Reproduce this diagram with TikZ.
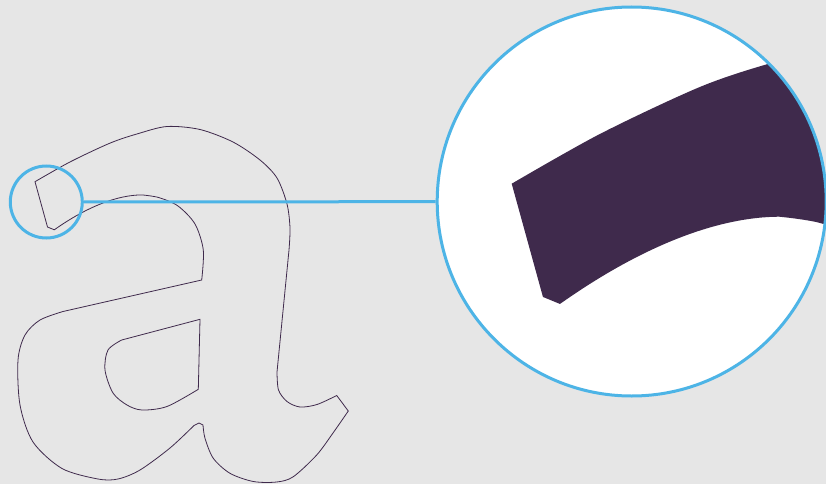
\documentclass[tikz,border=0pt]{standalone}
\usepackage{tikz}
\usetikzlibrary{positioning}
\definecolor{bggray}{RGB}{230,230,230}
\definecolor{lensblue}{RGB}{77,180,230}
\definecolor{glyphpurple}{RGB}{63,42,76}

% outline of the letter a (pixel units, y down)
\newcommand{\glyphoutline}{%
  plot[smooth] coordinates {(35,181.7) (70.3,161.8) (110.3,143) (138.2,133.6) (167,126.5) (200,129.5) (233,142) (260,160) (277,178) (287,204) (290,228) (289,250)}
  -- plot[smooth] coordinates {(277,372) (278.5,390) (287,401.5) (300,407) (317,404.5) (336.7,395.5)}
  -- plot[smooth] coordinates {(348.3,411) (333,433) (316.7,455) (293.3,476.7) (276.7,482) (253.3,481.5) (230,473.3) (213.3,458.3) (205,438.3) (203,425)}
  -- (199,423)
  -- plot[smooth] coordinates {(194,425.5) (170,448) (140,470) (118,479) (98,479) (62,468.5) (33,442) (20,405) (18,360) (25,335) (40,320) (63,311.5)}
  -- plot[smooth] coordinates {(201.7,280) (203.3,250) (195,224) (178,206) (159,197.6) (142,194.9)}
  .. controls (118,195) and (88,206) .. (54.3,229.8)
  -- (47.5,227) -- cycle
  (200,319.3) -- plot[smooth] coordinates {(121.7,340) (108,350) (105,370) (113,393) (127,405) (142,410) (167,406.5) (198.3,389.3)} -- cycle}

\begin{document}
\begin{tikzpicture}[x=1pt, y=-1pt,
    lens/.style={circle, draw=lensblue, line width=3pt, inner sep=0pt},
    lensline/.style={lensblue, line width=3pt}]
\useasboundingbox (0,0) rectangle (826,484);
\fill[bggray] (0,0) rectangle (826,484);

% Letter outline
\draw[glyphpurple, line width=0.8pt] \glyphoutline;

% Magnified view
\coordinate (zoomc) at (631.7,201.5);
\fill[white] (zoomc) circle (194.5pt);
\begin{scope}
    \clip (zoomc) circle (194.5pt);
    \fill[glyphpurple, even odd rule, shift={(424.2,-270.55)}, scale=2.5] \glyphoutline;
\end{scope}

% Circles and connector
\node[lens, minimum size=72pt] (lens) at (46.3,202) {};
\node[lens, minimum size=389pt] (zoom) at (zoomc) {};
\draw[lensline] (lens) -- (zoom);
\end{tikzpicture}
\end{document}
